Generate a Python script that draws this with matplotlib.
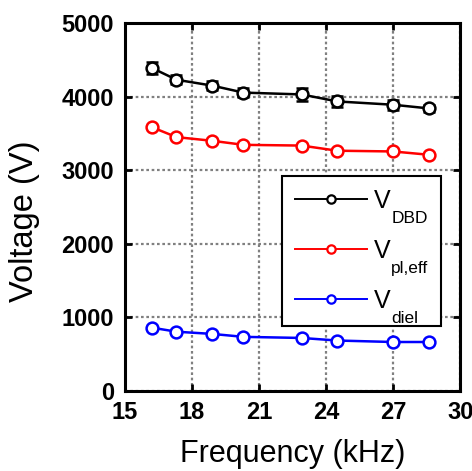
import numpy as np
import matplotlib.pyplot as plt

# Data
freq = [16.2, 17.3, 18.9, 20.3, 22.9, 24.5, 27.0, 28.6]  # kHz
v_dbd = [4390, 4230, 4150, 4055, 4030, 3935, 3890, 3840]
v_dbd_err = [80, 60, 60, 60, 90, 70, 70, 50]
v_pl_eff = [3585, 3450, 3400, 3345, 3335, 3265, 3255, 3210]
v_diel = [860, 805, 775, 735, 720, 685, 665, 665]

x_ticks = [15, 18, 21, 24, 27, 30]
y_ticks = [0, 1000, 2000, 3000, 4000, 5000]
subs = ['DBD', 'pl,eff', 'diel']

plt.rcParams['font.family'] = 'Liberation Sans'

fig = plt.figure(figsize=(4.72, 4.71), dpi=100)
ax = fig.add_axes([0.265, 0.170, 0.71, 0.781])

ms = 8.5
mew = 1.8
lw = 1.8

ax.errorbar(freq, v_dbd, yerr=v_dbd_err, color='black', lw=lw, marker='o', ms=ms,
            mfc='white', mec='black', mew=mew, elinewidth=2, capsize=4.5, capthick=2,
            zorder=3)
ax.plot(freq, v_pl_eff, color='red', lw=lw, marker='o', ms=ms, mfc='white',
        mec='red', mew=mew, zorder=3)
ax.plot(freq, v_diel, color='blue', lw=lw, marker='o', ms=ms, mfc='white',
        mec='blue', mew=mew, zorder=3)

# legend: big "V" as label, subscripts added below each one
h1, = ax.plot([], [], color='black', lw=1.4, marker='o', ms=6, mfc='white', mew=1.6)
h2, = ax.plot([], [], color='red', lw=1.4, marker='o', ms=6, mfc='white', mew=1.6)
h3, = ax.plot([], [], color='blue', lw=1.4, marker='o', ms=6, mfc='white', mew=1.6)
leg = ax.legend([h1, h2, h3], ['V'] * 3, mode='expand',
                loc='upper left', bbox_to_anchor=(0.469, 0.184, 0.475, 0.4),
                borderaxespad=0, fontsize=18, handlelength=2.9, handletextpad=0.25,
                labelspacing=1.05, borderpad=0.5, fancybox=False, framealpha=1,
                edgecolor='black')
leg.get_frame().set_linewidth(1.5)
for txt, s in zip(leg.get_texts(), subs):
    ax.annotate(s, xy=(1, 0), xycoords=txt, xytext=(0.8, 1.5),
                textcoords='offset points', ha='left', va='top', fontsize=12.5,
                zorder=10, annotation_clip=False)

ax.set_xlim(15, 30)
ax.set_ylim(0, 5000)
ax.set_xticks(x_ticks)
ax.set_yticks(y_ticks)
for lab in ax.get_xticklabels() + ax.get_yticklabels():
    lab.set_fontweight('bold')
    lab.set_fontsize(17)

ax.grid(True, color='#808080', linestyle=(0, (1.2, 1.2)), linewidth=1.6)
ax.set_axisbelow(True)
ax.tick_params(direction='in', length=5, width=2, top=True, right=True)
ax.tick_params(axis='x', pad=7)
ax.tick_params(axis='y', pad=8)
for s in ax.spines.values():
    s.set_linewidth(2.2)

ax.set_xlabel('Frequency (kHz)', fontsize=22, labelpad=11)
ax.set_ylabel('Voltage (V)', fontsize=23.5)
ax.yaxis.set_label_coords(-0.254, 0.462)

fig.savefig('out.png', dpi=100)
